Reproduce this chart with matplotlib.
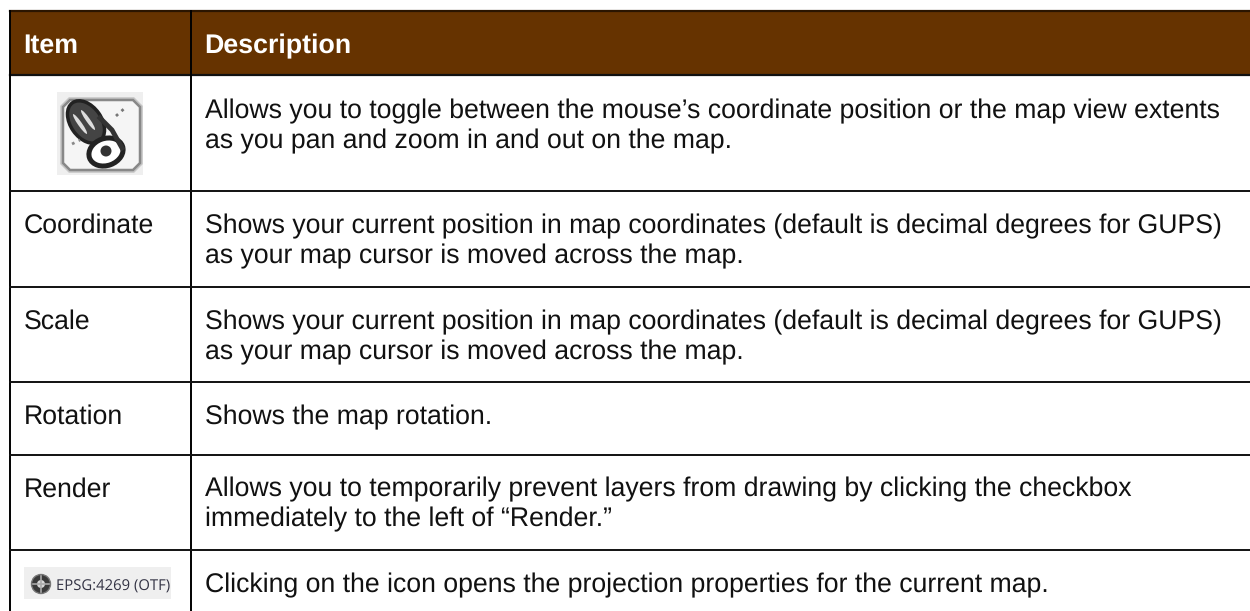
"""Table of map status bar items, drawn with plain matplotlib artists."""

import matplotlib
matplotlib.use("Agg")
import matplotlib.pyplot as plt
import matplotlib.patches as mpatches
from matplotlib.patches import Ellipse, Circle, Polygon


HEADER = ["Item", "Description"]
ITEMS = ["", "Coordinate", "Scale", "Rotation", "Render", ""]
DESCRIPTIONS = [
    ["Allows you to toggle between the mouse\u2019s coordinate position or the map view extents",
     "as you pan and zoom in and out on the map."],
    ["Shows your current position in map coordinates (default is decimal degrees for GUPS)",
     "as your map cursor is moved across the map."],
    ["Shows your current position in map coordinates (default is decimal degrees for GUPS)",
     "as your map cursor is moved across the map."],
    ["Shows the map rotation."],
    ["Allows you to temporarily prevent layers from drawing by clicking the checkbox",
     "immediately to the left of \u201cRender.\u201d"],
    ["Clicking on the icon opens the projection properties for the current map."],
]
ICON_LABEL = "EPSG:4269 (OTF)"

W, H = 1250, 611
plt.rcParams["font.family"] = ["Liberation Sans", "DejaVu Sans"]
plt.rcParams["text.hinting"] = "none"
plt.rcParams["text.hinting_factor"] = 8

fig = plt.figure(figsize=(W / 100, H / 100), dpi=100)
ax = fig.add_axes([0, 0, 1, 1])
ax.set_xlim(0, W)
ax.set_ylim(H, 0)
ax.axis("off")

LEFT, SPLIT, RIGHT = 9.5, 190.5, 1250
TOP, HEAD_BOTTOM = 11, 75.3
ROW_LINES = [191, 286.7, 381.7, 455, 550]
BASELINES = [118.5, 233, 329, 424, 496.5, 592]
LINE_STEP = 30
FS = 19.18
HEAD_FS = 19.25
INK = "#111111"

# Header band
ax.add_patch(mpatches.Rectangle((LEFT, TOP), RIGHT - LEFT, HEAD_BOTTOM - TOP,
                                facecolor="#663300", edgecolor="none"))
ax.plot([LEFT, RIGHT], [TOP, TOP], color="#2b1500", lw=1.6)
ax.plot([LEFT, RIGHT], [HEAD_BOTTOM, HEAD_BOTTOM], color=INK, lw=1.6)

ax.text(23.5, 53, HEADER[0], color="white", fontsize=HEAD_FS, fontweight="bold", va="baseline")
ax.text(204.5, 53, HEADER[1], color="white", fontsize=HEAD_FS, fontweight="bold", va="baseline")

# Grid lines
ax.plot([LEFT, LEFT], [TOP, H], color="black", lw=1.4)
ax.plot([SPLIT, SPLIT], [TOP, H], color="black", lw=1.4)
for y in ROW_LINES:
    ax.plot([LEFT, RIGHT], [y, y], color=INK, lw=1.4)

# Row text
for item, lines, base in zip(ITEMS, DESCRIPTIONS, BASELINES):
    for i, line in enumerate(lines):
        ax.text(205, base + i * LINE_STEP, line, fontsize=FS, color=INK, va="baseline")
    if item:
        ax.text(24, base, item, fontsize=FS, color=INK, va="baseline")

# Mouse icon, soft wide strokes under the dark ones to look like a scaled-up bitmap
ax.add_patch(mpatches.Rectangle((57, 92), 86, 83, facecolor="#efefef", edgecolor="none"))
frame = [(70, 100), (133, 100), (140, 107), (140, 163), (133, 170), (70, 170), (63, 163), (63, 107)]
ax.add_patch(Polygon(frame, closed=True, facecolor="none", edgecolor="#aaaaaa", lw=4, alpha=0.6))
ax.add_patch(Polygon(frame, closed=True, facecolor="#f5f5f5", edgecolor="#888888", lw=1.8))
ax.add_patch(Ellipse((86, 122), 31, 47, angle=-35, facecolor="#444444", edgecolor="#222222", lw=2.5))
ax.add_patch(Ellipse((80, 124), 4, 24, angle=-35, facecolor="#dddddd", edgecolor="none"))
ax.add_patch(Ellipse((88, 120), 4, 24, angle=-35, facecolor="#dddddd", edgecolor="none"))
ax.add_patch(Ellipse((106, 152), 35, 27, angle=-20, facecolor="white", edgecolor="#222222", lw=3.6))
ax.add_patch(Circle((106, 151), 5.5, facecolor="#333333", edgecolor="none"))
ax.plot([100, 112, 122], [118, 130, 148], color="#333333", lw=3.5)
ax.plot([116, 126], [116, 107], color="#777777", lw=2, ls=":")
ax.plot([72, 80], [144, 140], color="#888888", lw=2, ls=":")

# Projection icon
ax.add_patch(mpatches.Rectangle((24, 567), 147, 32, facecolor="#efefef", edgecolor="none"))
ax.add_patch(Circle((41, 584), 9.5, facecolor="#3a3a3a", edgecolor="#777777", lw=1))
ax.plot([41, 41], [576, 592], color="#aaaaaa", lw=1.2)
ax.plot([33, 49], [584, 584], color="#aaaaaa", lw=1.2)
ax.add_patch(Circle((41, 584), 4, facecolor="#d8d8d8", edgecolor="none"))
ax.text(56, 591, ICON_LABEL, fontsize=10.7, color="#333344", va="baseline",
        family=["Open Sans", "DejaVu Sans"])

fig.savefig("out.png", dpi=100)
plt.close(fig)
